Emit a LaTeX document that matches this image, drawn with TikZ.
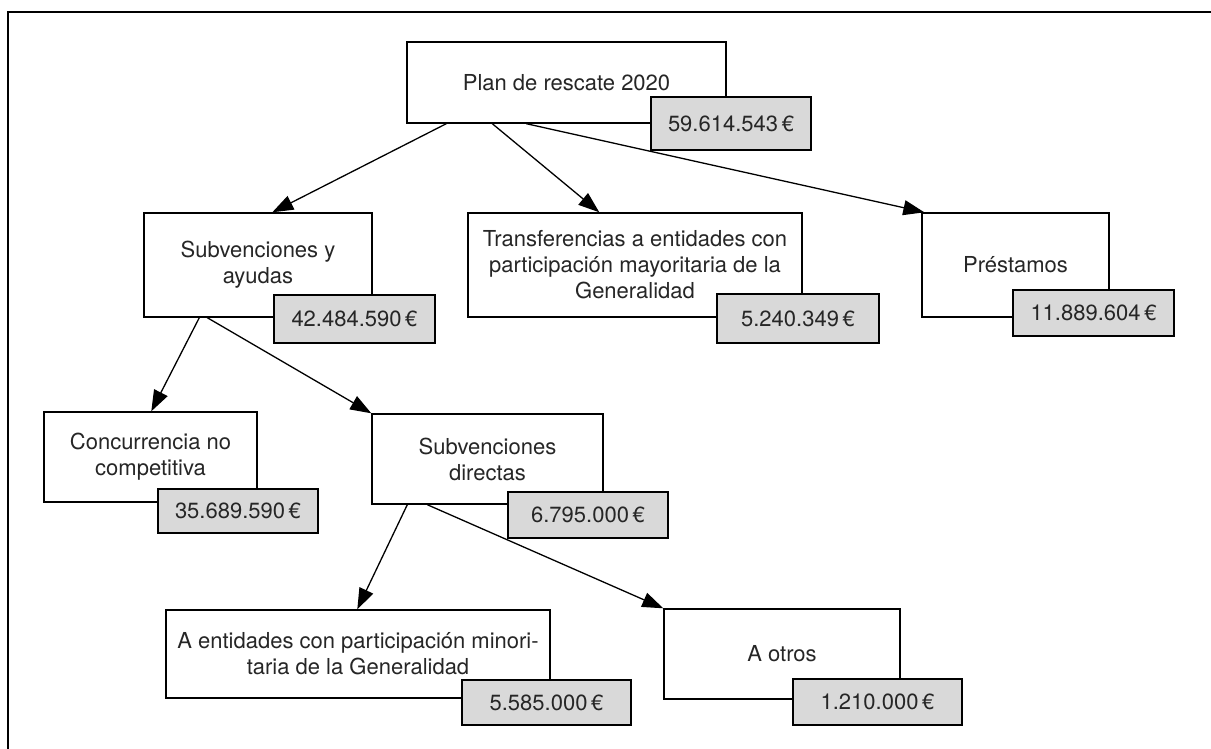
\documentclass[tikz,border=0pt]{standalone}
\usepackage{fontspec}
\setmainfont{TeX Gyre Heros}
\usetikzlibrary{arrows.meta}
\definecolor{txt}{HTML}{262626}
\definecolor{valfill}{HTML}{D9D9D9}
\tikzset{
  box/.style={draw=black, line width=1.4pt, fill=white, align=center, inner sep=0pt, text=txt,
    font=\fontsize{22}{26}\selectfont},
  val/.style={draw=black, line width=1.4pt, fill=valfill, inner sep=0pt, text=txt,
    font=\fontsize{22}{26}\selectfont},
  arr/.style={line width=1.3pt, -{Triangle[length=21pt,width=15pt]}},
}
\begin{document}
\begin{tikzpicture}[x=1pt,y=-1pt]
\useasboundingbox (0,0) rectangle (1211,749);
\clip (0,0) rectangle (1211,749);
\draw[line width=2.2pt] (8,760) -- (8,12) -- (1220,12);

% main boxes (center, size)
\node[box, minimum width=319pt, minimum height=81pt] (plan) at (566.5,82.5) {Plan de rescate 2020};
\node[box, minimum width=228pt, minimum height=104pt] (subv) at (258,265) {Subvenciones y\\ayudas};
\node[box, minimum width=334pt, minimum height=104pt] (transf) at (635,265) {Transferencias a entidades con\\participación mayoritaria de la\\Generalidad};
\node[box, minimum width=187pt, minimum height=104pt] (prest) at (1015.5,265) {Préstamos};
\node[box, minimum width=213pt, minimum height=90pt] (conc) at (150.5,457) {Concurrencia no\\competitiva};
\node[box, minimum width=231pt, minimum height=90pt] (direc) at (487.5,459) {Subvenciones\\directas};
\node[box, minimum width=384pt, minimum height=88pt] (minor) at (358,654) {A entidades con participación minori-\\taria de la Generalidad};
\node[box, minimum width=236pt, minimum height=90pt] (otros) at (782,654) {A otros};

% value boxes
\node[val, minimum width=160pt, minimum height=53pt] (vplan) at (731,123.5) {59.614.543\,€};
\node[val, minimum width=161pt, minimum height=48pt] (vsubv) at (354.5,319) {42.484.590\,€};
\node[val, minimum width=162pt, minimum height=49pt] (vtransf) at (798,318.5) {5.240.349\,€};
\node[val, minimum width=161pt, minimum height=46pt] (vprest) at (1093.5,313) {11.889.604\,€};
\node[val, minimum width=160pt, minimum height=44pt] (vconc) at (238,511) {35.689.590\,€};
\node[val, minimum width=160pt, minimum height=46pt] (vdirec) at (588,515) {6.795.000\,€};
\node[val, minimum width=169pt, minimum height=45pt] (vminor) at (546.5,702.5) {5.585.000\,€};
\node[val, minimum width=169pt, minimum height=46pt] (votros) at (877.5,702) {1.210.000\,€};

% connectors
\draw[arr] ([xshift=40pt]plan.south west) -- ([xshift=129pt]subv.north west);
\draw[arr] ([xshift=86pt]plan.south west) -- ([xshift=132pt]transf.north west);
\draw[arr] ([xshift=120pt]plan.south west) -- ([xshift=3pt]prest.north west);
\draw[arr] ([xshift=56pt]subv.south west) -- ([xshift=108pt]conc.north west);
\draw[arr] ([xshift=64pt]subv.south west) -- (direc.north west);
\draw[arr] ([xshift=36pt]direc.south west) -- ([xshift=192pt]minor.north west);
\draw[arr] ([xshift=56pt]direc.south west) -- (otros.north west);
\end{tikzpicture}
\end{document}
